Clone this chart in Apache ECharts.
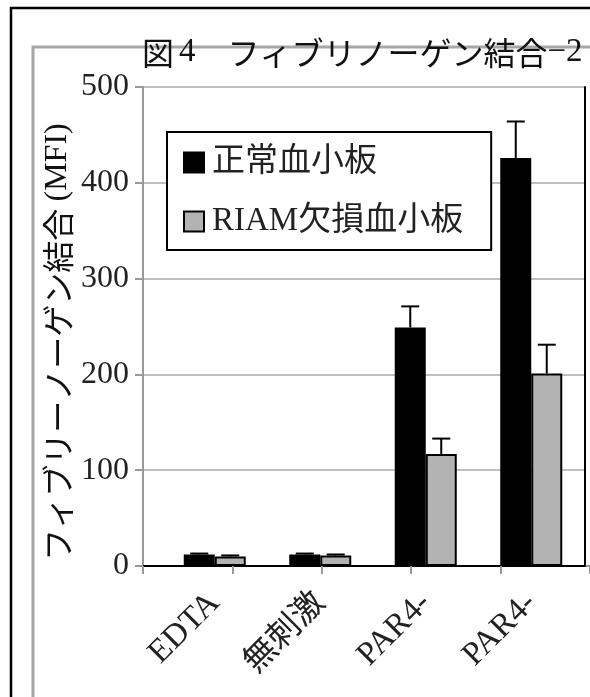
<!DOCTYPE html>
<html>
<head>
<meta charset="utf-8">
<script src="https://cdn.jsdelivr.net/npm/echarts@6/dist/echarts.min.js"></script>
<style>
  html, body { margin: 0; padding: 0; background: #fff; }
  #chart { width: 590px; height: 697px; }
</style>
</head>
<body>
<div id="chart"></div>
<script>
// Fibrinogen binding (MFI) per stimulation condition
const categories = ['EDTA', '無刺激', 'PAR4-', 'PAR4-'];
const seriesNames = ['正常血小板', 'RIAM欠損血小板'];
const normalValues = [12, 12, 249, 426];
const normalErrors = [1, 1, 22, 38];
const riamValues = [10, 11, 117, 201];
const riamErrors = [1, 1, 16, 30];
const yTicks = { min: 0, max: 500, step: 100 };
const tickSlots = ['', '', '', '', ''];

const BAR_W = 31;
const SERIF = "'Liberation Serif', 'DejaVu Serif', serif";
const GOTHIC = "'Noto Sans CJK JP', 'Noto Sans', sans-serif";
const MIXED = "'Liberation Serif', 'Noto Sans CJK JP', serif";

const chart = echarts.init(document.getElementById('chart'), null, { renderer: 'canvas' });

// Positive-only error bars sitting on top of each bar
function errorBarSeries(values, errors, side) {
  return {
    type: 'custom',
    xAxisIndex: 0,
    yAxisIndex: 0,
    z: 4,
    silent: true,
    data: values.map((v, i) => [i, v, errors[i]]),
    renderItem: function (params, api) {
      const i = api.value(0);
      const v = api.value(1);
      const e = api.value(2);
      const base = api.coord([i, v]);
      const top = api.coord([i, v + e]);
      const x = base[0] + side * BAR_W / 2;
      const st = { stroke: '#000', lineWidth: 2 };
      return {
        type: 'group',
        children: [
          { type: 'line', shape: { x1: x, y1: base[1], x2: x, y2: top[1] }, style: st },
          { type: 'line', shape: { x1: x - 9, y1: top[1], x2: x + 9, y2: top[1] }, style: st }
        ]
      };
    }
  };
}

const option = {
  backgroundColor: '#fff',
  animation: false,
  title: {
    left: 137,
    top: 31,
    z: 10,
    text: '{g|図}{n|4}{g|　フィブリノーゲン結合}{d|−2}',
    textStyle: {
      fontWeight: 'normal',
      rich: {
        g: { fontFamily: GOTHIC, fontSize: 32, fontWeight: 'normal', color: '#111' },
        n: { fontFamily: SERIF, fontSize: 33, fontWeight: 'normal', color: '#111', padding: [0, 0, 0, 5] },
        d: { fontFamily: SERIF, fontSize: 33, fontWeight: 'normal', color: '#111' }
      }
    }
  },
  legend: {
    data: seriesNames,
    orient: 'vertical',
    left: 167,
    top: 132,
    padding: [14, 28, 12, 16],
    itemGap: 26,
    itemWidth: 20,
    itemHeight: 20,
    icon: 'rect',
    backgroundColor: '#fff',
    borderColor: '#000',
    borderWidth: 2,
    textStyle: { fontFamily: MIXED, fontSize: 33, color: '#222', padding: [0, 0, 0, 3] }
  },
  grid: [
    { left: 162, right: 6, top: 87, height: 479 },
    { left: 143, right: -23, top: 87, height: 479 },
    { left: 143, right: 5, top: 87, height: 479 }
  ],
  xAxis: [
    {
      gridIndex: 0,
      type: 'category',
      data: categories,
      axisLine: { show: false },
      axisTick: { show: false },
      axisLabel: { rotate: 45, margin: 32, fontFamily: MIXED, fontSize: 33, color: '#222' }
    },
    {
      gridIndex: 1,
      type: 'category',
      data: tickSlots,
      axisLine: { show: true, lineStyle: { color: '#999', width: 2 } },
      axisTick: { show: true, length: 8, lineStyle: { color: '#999', width: 2 } },
      axisLabel: { show: false }
    },
    {
      gridIndex: 2,
      type: 'category',
      data: categories,
      position: 'top',
      axisLine: { show: true, lineStyle: { color: '#000', width: 2 } },
      axisTick: { show: false },
      axisLabel: { show: false }
    }
  ],
  yAxis: [
    {
      gridIndex: 0,
      type: 'value',
      min: yTicks.min, max: yTicks.max, interval: yTicks.step,
      show: false
    },
    {
      gridIndex: 1,
      type: 'value',
      min: yTicks.min, max: yTicks.max, interval: yTicks.step,
      axisLine: { show: true, lineStyle: { color: '#999', width: 2 } },
      axisTick: { show: true, length: 8, lineStyle: { color: '#999', width: 2 } },
      axisLabel: { margin: 14, fontFamily: SERIF, fontSize: 32, color: '#222' },
      splitLine: { show: false }
    },
    {
      gridIndex: 2,
      type: 'value',
      position: 'right',
      min: yTicks.min, max: yTicks.max, interval: yTicks.step,
      axisLine: { show: true, lineStyle: { color: '#000', width: 2 } },
      axisTick: { show: false },
      axisLabel: { show: false },
      splitLine: { show: true, lineStyle: { color: '#aaa', width: 1.5 } }
    }
  ],
  graphic: [
    {
      type: 'rect', z: -10, silent: true,
      shape: { x: 11, y: 8, width: 700, height: 800 },
      style: { fill: 'none', stroke: '#000', lineWidth: 2.5 }
    },
    {
      type: 'polyline', z: -9, silent: true,
      shape: { points: [[33, 720], [33, 47], [620, 47]] },
      style: { fill: 'none', stroke: '#a6a6a6', lineWidth: 3 }
    },
    {
      type: 'text', z: 5, silent: true,
      x: 58, y: 342, rotation: Math.PI / 2,
      style: {
        text: '{g|フィブリーノーゲン結合 }{s|(MFI)}',
        align: 'center', verticalAlign: 'middle',
        rich: {
          g: { fontFamily: GOTHIC, fontSize: 32, fill: '#111' },
          s: { fontFamily: SERIF, fontSize: 32, fill: '#111' }
        }
      }
    }
  ],
  series: [
    {
      name: seriesNames[0],
      type: 'bar',
      xAxisIndex: 0, yAxisIndex: 0,
      data: normalValues,
      barWidth: BAR_W,
      barGap: '0%',
      itemStyle: { color: '#000', borderColor: '#000', borderWidth: 2 }
    },
    {
      name: seriesNames[1],
      type: 'bar',
      xAxisIndex: 0, yAxisIndex: 0,
      data: riamValues,
      barWidth: BAR_W,
      barGap: '0%',
      itemStyle: { color: '#b3b3b3', borderColor: '#000', borderWidth: 2 }
    },
    errorBarSeries(normalValues, normalErrors, -1),
    errorBarSeries(riamValues, riamErrors, 1)
  ]
};

chart.setOption(option);
</script>
</body>
</html>
